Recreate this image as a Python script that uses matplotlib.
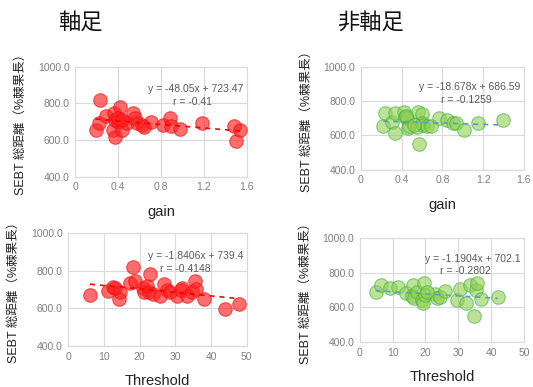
import matplotlib
matplotlib.use("Agg")
import matplotlib.pyplot as plt
import numpy as np

plt.rcParams["font.family"] = ["Liberation Sans", "Noto Sans CJK JP", "DejaVu Sans"]

# pivot leg vs gain
gain_axis = [0.19, 0.23, 0.22, 0.29, 0.36, 0.35, 0.37, 0.37, 0.40, 0.42, 0.42, 0.44,
             0.48, 0.54, 0.56, 0.58, 0.62, 0.64, 0.71, 0.82, 0.88, 0.89, 0.98, 1.18,
             1.48, 1.50, 1.54, 0.40, 0.44]
sebt_gain_axis = [654, 818, 695, 731, 745, 655, 615, 709, 700, 782, 709, 655,
                  695, 745, 718, 695, 682, 673, 700, 682, 718, 676, 660, 695,
                  676, 596, 655, 720, 712]

# non-pivot leg vs gain
gain_non = [0.22, 0.24, 0.31, 0.34, 0.34, 0.42, 0.43, 0.45, 0.46, 0.47, 0.55, 0.56,
            0.57, 0.60, 0.60, 0.61, 0.65, 0.69, 0.77, 0.85, 0.90, 0.93, 1.01, 1.15,
            1.39, 0.44, 0.52]
sebt_gain_non = [652, 729, 681, 729, 617, 739, 710, 700, 642, 652, 648, 739,
                 551, 725, 675, 661, 652, 655, 700, 690, 671, 675, 632, 671,
                 690, 715, 660]

# pivot leg vs threshold
thr_axis = [6.1, 11.2, 12.6, 13.1, 14.5, 14.3, 17.3, 18.0, 18.7, 21.0, 21.2, 22.0,
            22.9, 22.7, 23.8, 25.7, 26.8, 27.6, 28.5, 30.4, 31.8, 31.6, 33.2, 34.6,
            35.5, 35.7, 38.0, 43.9, 47.9]
sebt_thr_axis = [672, 693, 711, 707, 689, 650, 737, 819, 743, 707, 689, 716,
                 783, 689, 677, 663, 730, 698, 689, 663, 707, 695, 663, 689,
                 746, 704, 650, 597, 624]

# non-pivot leg vs threshold
thr_non = [4.8, 6.5, 9.2, 11.5, 14.0, 16.2, 15.8, 16.5, 17.5, 18.8, 19.3, 19.7,
           20.0, 23.0, 23.5, 24.5, 26.0, 29.5, 30.5, 32.5, 33.5, 35.5, 35.8, 34.8,
           36.8, 42.0, 20.5]
sebt_thr_non = [690, 729, 710, 719, 685, 729, 665, 657, 690, 642, 623, 739,
                671, 677, 657, 661, 696, 642, 704, 626, 729, 700, 739, 551,
                646, 661, 690]

fits = [
    ("y = -48.05x + 723.47", "r = -0.41", -48.05, 723.47),
    ("y = -18.678x + 686.59", "r = -0.1259", -18.678, 686.59),
    ("y = -1.8406x + 739.4", "r = -0.4148", -1.8406, 739.4),
    ("y = -1.1904x + 702.1", "r = -0.2802", -1.1904, 702.1),
]

RED_FACE = "#ff2020"
RED_EDGE = "#ee1111"
GREEN_FACE = "#92d050"
GREEN_EDGE = "#3cb043"
BLUE_LINE = "#5b9bd5"

fig = plt.figure(figsize=(5.33, 3.87), dpi=100)

gain_ticks = np.arange(0, 1.61, 0.4)
thr_ticks = np.arange(0, 51, 10)

panels = [
    ([0.141, 0.543, 0.322, 0.285], gain_axis, sebt_gain_axis, "gain", (0, 1.6), gain_ticks, "red"),
    ([0.677, 0.561, 0.306, 0.267], gain_non, sebt_gain_non, "gain", (0, 1.6), gain_ticks, "green"),
    ([0.128, 0.106, 0.335, 0.292], thr_axis, sebt_thr_axis, "Threshold", (0, 50), thr_ticks, "red"),
    ([0.675, 0.116, 0.308, 0.269], thr_non, sebt_thr_non, "Threshold", (0, 50), thr_ticks, "green"),
]

for (rect, xs, ys, xlabel, xlim, xticks, kind), (eq, rtxt, slope, icpt) in zip(panels, fits):
    ax = fig.add_axes(rect)
    xs = np.array(xs)
    ys = np.array(ys)
    if kind == "red":
        ax.scatter(xs, ys, s=95, facecolor=RED_FACE, edgecolor=RED_EDGE,
                   alpha=0.65, linewidth=0.8, zorder=3)
        line_color = "#ff0000"
    else:
        ax.scatter(xs, ys, s=95, facecolor=GREEN_FACE, edgecolor=GREEN_EDGE,
                   alpha=0.6, linewidth=0.8, zorder=3)
        line_color = BLUE_LINE
    fx = np.array([xs.min(), xs.max()])
    ax.plot(fx, slope * fx + icpt, ls=(0, (3, 3)), color=line_color, lw=1.2, zorder=4)

    ax.set_xlim(*xlim)
    ax.set_ylim(400, 1000)
    ax.set_xticks(xticks)
    if xlabel == "gain":
        ax.set_xticklabels(["0"] + [f"{v:.1f}" for v in xticks[1:]])
    ax.set_yticks([400, 600, 800, 1000])
    ax.set_yticklabels(["400.0", "600.0", "800.0", "1000.0"])
    ax.grid(True, color="#d9d9d9", lw=0.8)
    ax.set_axisbelow(True)
    for sp in ax.spines.values():
        sp.set_color("#d9d9d9")
        sp.set_linewidth(0.8)
    ax.tick_params(length=0, labelsize=7.5, colors="#7f7f7f", pad=4)
    ax.set_xlabel(xlabel, fontsize=10.5, labelpad=9, color="#222222")
    ax.set_ylabel("SEBT 総距離（%棘果長）", fontsize=9, labelpad=8, color="#222222")

    ax.text(0.98, 0.80, eq, transform=ax.transAxes, ha="right", va="center",
            fontsize=7.5, color="#595959", zorder=5)
    ax.text(0.80, 0.68, rtxt, transform=ax.transAxes, ha="right", va="center",
            fontsize=7.5, color="#595959", zorder=5)

fig.text(0.15, 0.94, "軸足", fontsize=16, ha="center", va="center", color="#111111")
fig.text(0.695, 0.94, "非軸足", fontsize=16, ha="center", va="center", color="#111111")

fig.savefig("out.png", dpi=100)
